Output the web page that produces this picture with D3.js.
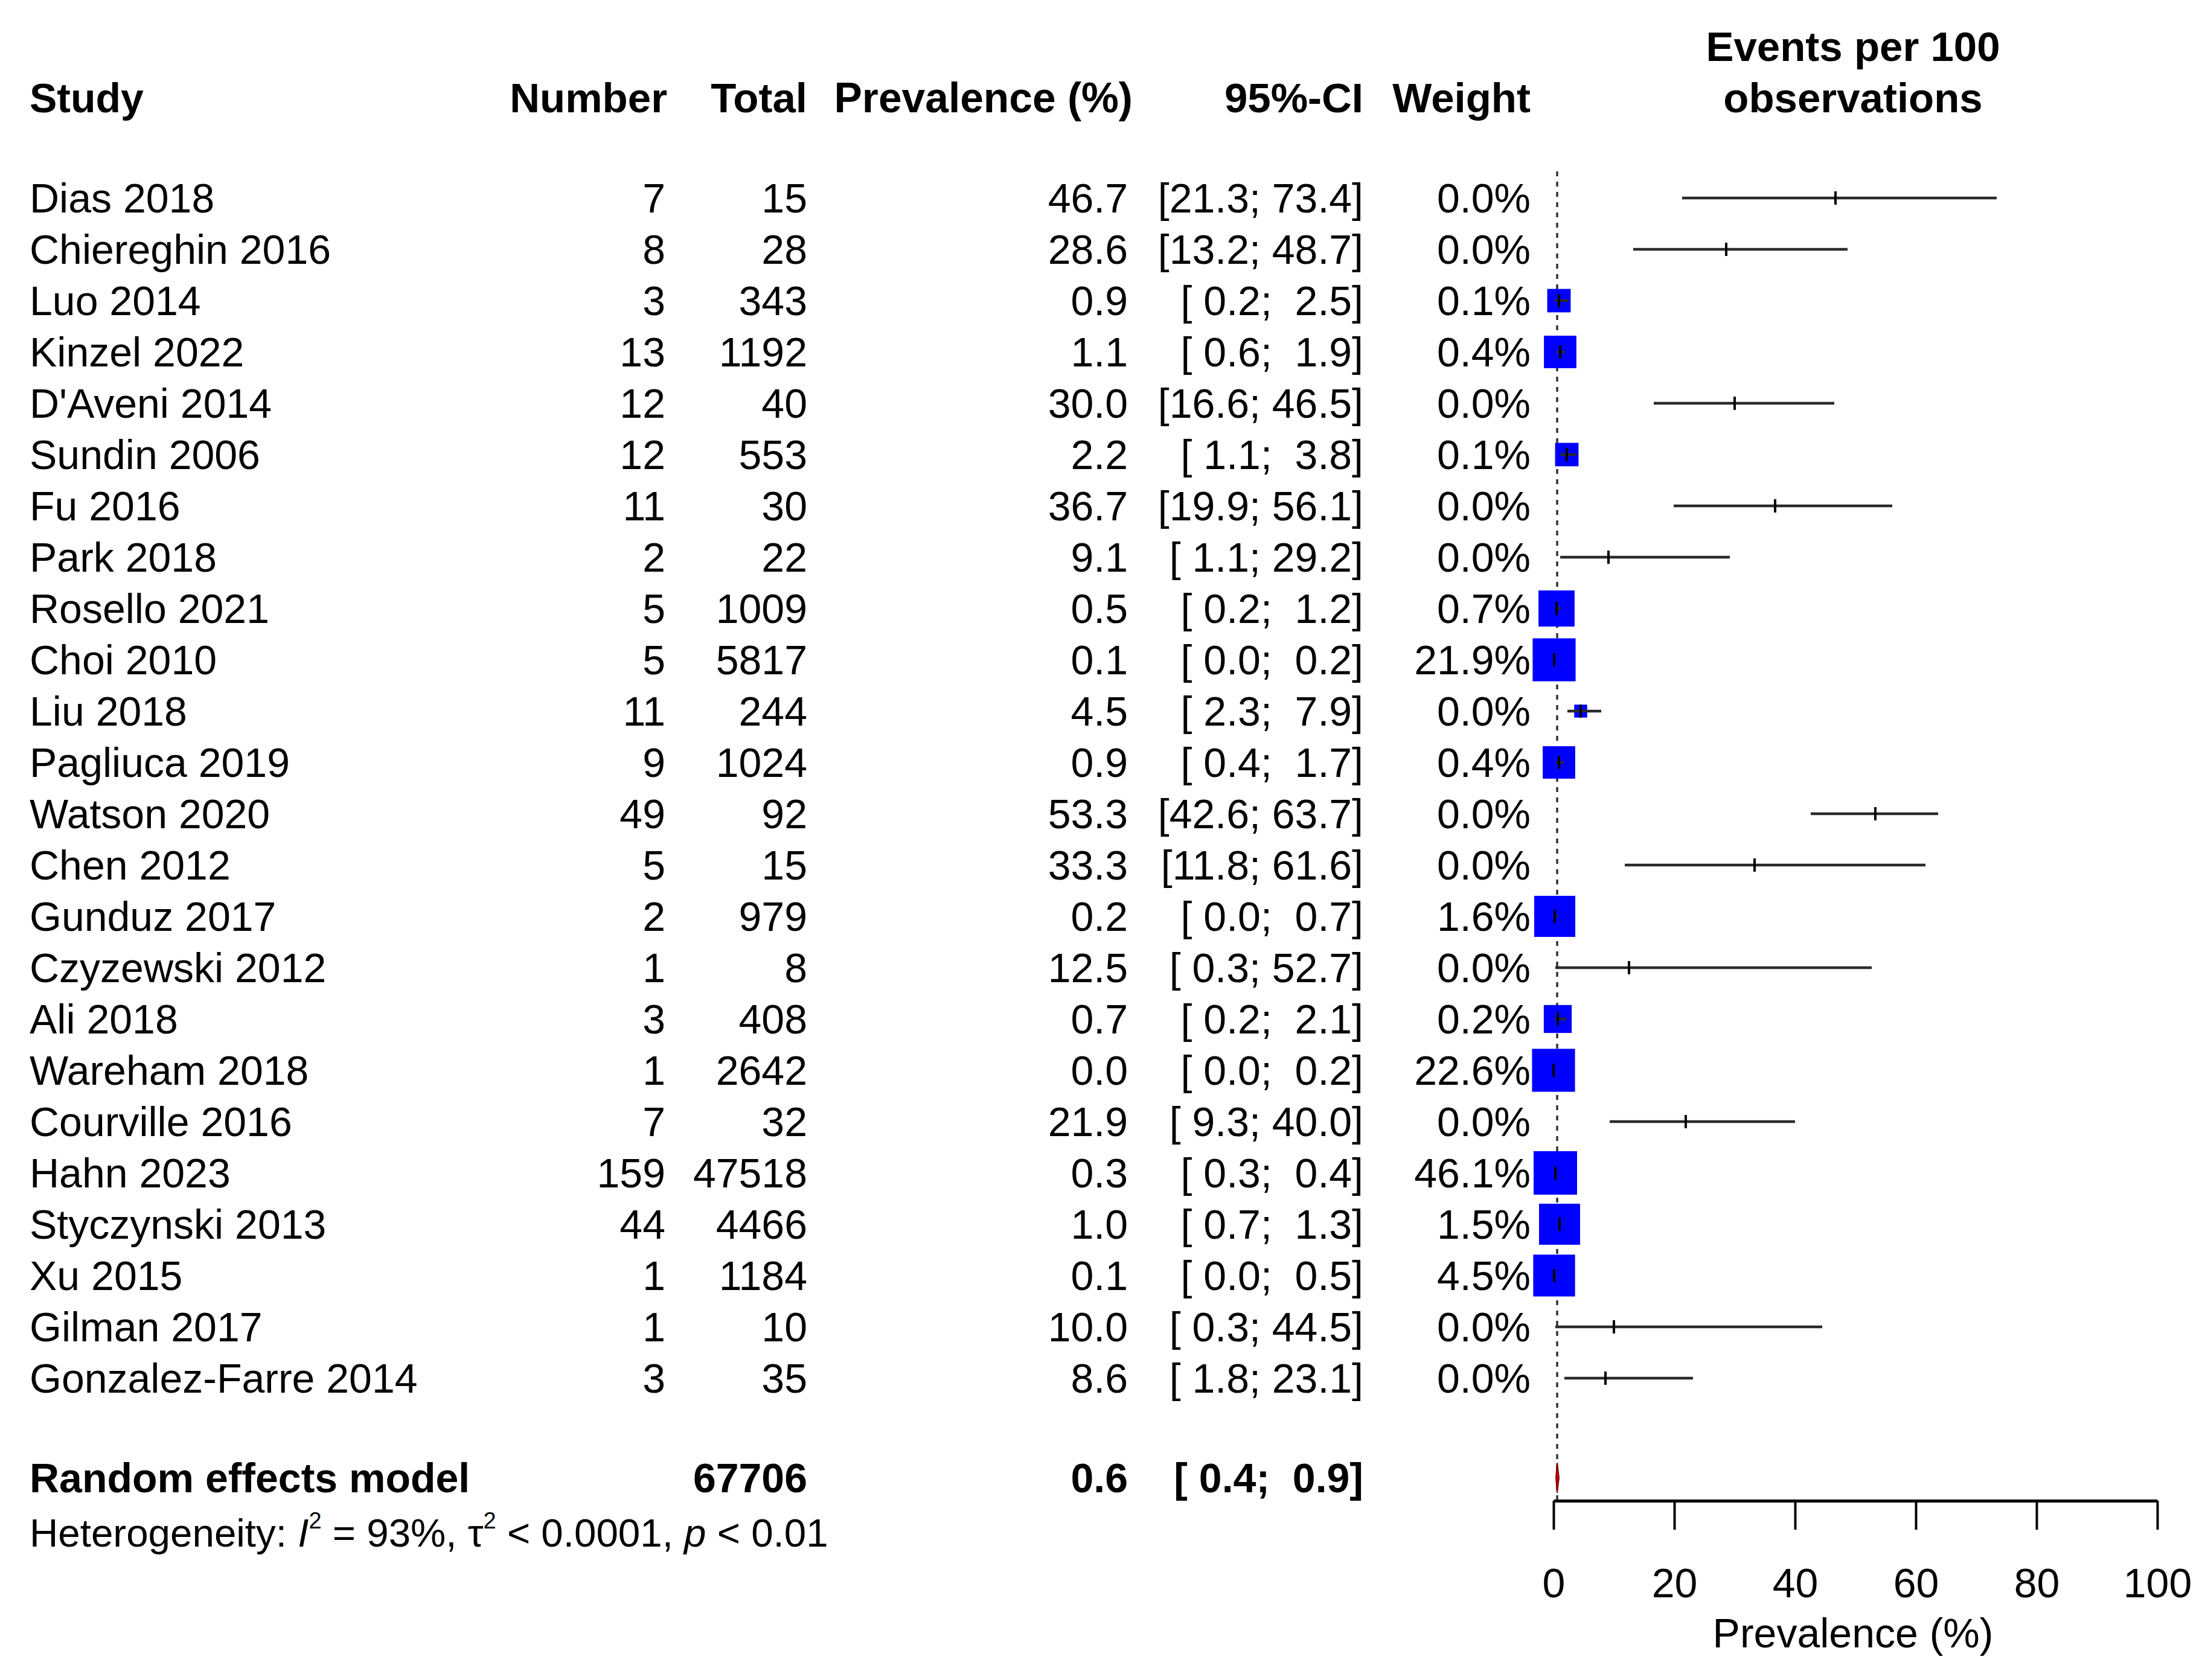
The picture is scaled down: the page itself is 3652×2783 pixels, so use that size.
<!DOCTYPE html>
<html>
<head>
<meta charset="utf-8">
<script src="https://cdn.jsdelivr.net/npm/d3@7"></script>
<style>
  html, body { margin: 0; padding: 0; background: #ffffff; }
  svg text { font-family: "Liberation Sans", Arial, Helvetica, sans-serif; white-space: pre; }
</style>
</head>
<body>
<svg id="chart" width="3652" height="2783" xml:space="preserve"></svg>
<script>
// ---------------- DATA ----------------
const studies = ["Dias 2018","Chiereghin 2016","Luo 2014","Kinzel 2022","D'Aveni 2014","Sundin 2006","Fu 2016","Park 2018","Rosello 2021","Choi 2010","Liu 2018","Pagliuca 2019","Watson 2020","Chen 2012","Gunduz 2017","Czyzewski 2012","Ali 2018","Wareham 2018","Courville 2016","Hahn 2023","Styczynski 2013","Xu 2015","Gilman 2017","Gonzalez-Farre 2014"];
const events = [7,8,3,13,12,12,11,2,5,5,11,9,49,5,2,1,3,1,7,159,44,1,1,3];
const totals = [15,28,343,1192,40,553,30,22,1009,5817,244,1024,92,15,979,8,408,2642,32,47518,4466,1184,10,35];
const prevalence = [46.7,28.6,0.9,1.1,30.0,2.2,36.7,9.1,0.5,0.1,4.5,0.9,53.3,33.3,0.2,12.5,0.7,0.0,21.9,0.3,1.0,0.1,10.0,8.6];
const ciLower = [21.3,13.2,0.2,0.6,16.6,1.1,19.9,1.1,0.2,0.0,2.3,0.4,42.6,11.8,0.0,0.3,0.2,0.0,9.3,0.3,0.7,0.0,0.3,1.8];
const ciUpper = [73.4,48.7,2.5,1.9,46.5,3.8,56.1,29.2,1.2,0.2,7.9,1.7,63.7,61.6,0.7,52.7,2.1,0.2,40.0,0.4,1.3,0.5,44.5,23.1];
const weights = [0.0,0.0,0.1,0.4,0.0,0.1,0.0,0.0,0.7,21.9,0.0,0.4,0.0,0.0,1.6,0.0,0.2,22.6,0.0,46.1,1.5,4.5,0.0,0.0];
// unrounded weights as estimated from the square sizes in the picture (0 = no visible square)
const weightsEstimated = [0,0,0.1,0.4,0,0.1,0,0,0.7,21.9,0.02,0.4,0,0,1.6,0,0.2,22.6,0,46.1,1.5,4.5,0,0];

const pooledLabel = "Random effects model";
const pooledTotal = 67706;
const pooledEst = 0.6;
const pooledLower = 0.4;
const pooledUpper = 0.9;

const xTicks = [0, 20, 40, 60, 80, 100];
const headers = { study: "Study", number: "Number", total: "Total", prev: "Prevalence (%)", ci: "95%-CI", weight: "Weight", right1: "Events per 100", right2: "observations" };
const xAxisTitle = "Prevalence (%)";

// ---------------- LAYOUT ----------------
const FS = 68;
const svg = d3.select("#chart");
svg.append("rect").attr("width", 3652).attr("height", 2783).attr("fill", "#fff");

const x = d3.scaleLinear().domain([0, 100]).range([2573, 3573]);
const y = d3.scaleLinear().domain([0, studies.length - 1]).range([328, 328 + 85 * (studies.length - 1)]);
const boxSize = d3.scaleLog().domain([0.01, 1.5, 46.1]).range([14, 68, 72]).clamp(true);

const col = { study: 49, number: 1102, total: 1337, prev: 1868, prevHead: 1876, ci: 2258, weight: 2535 };
const baseOff = 24;
const pooledY = 2448;
const axisY = 2486;

const fmt1 = d3.format(".1f");
const pad4 = v => fmt1(v).padStart(4, " ");
const ciText = (lo, hi) => "[" + pad4(lo) + "; " + pad4(hi) + "]";

function txt(g, xp, yp, s, anchor, weight, size) {
  return g.append("text").attr("x", xp).attr("y", yp).attr("text-anchor", anchor || "start")
    .attr("font-weight", weight || "normal").attr("font-size", size || FS).attr("fill", "#000").text(s);
}

// headers
const hg = svg.append("g");
const hy = 186;
txt(hg, col.study, hy, headers.study, "start", "bold");
txt(hg, col.number + 3, hy, headers.number, "end", "bold", 69);
txt(hg, col.total, hy, headers.total, "end", "bold", 69);
txt(hg, col.prevHead, hy, headers.prev, "end", "bold", 69.5);
txt(hg, col.ci, hy, headers.ci, "end", "bold", 69);
txt(hg, col.weight, hy, headers.weight, "end", "bold", 69);
txt(hg, x(50) - 4, 101, headers.right1, "middle", "bold", 69);
txt(hg, x(50) - 4, hy, headers.right2, "middle", "bold", 69);

// study rows text
const rg = svg.append("g");
studies.forEach((s, i) => {
  const yy = y(i) + baseOff;
  txt(rg, col.study, yy, s, "start");
  txt(rg, col.number, yy, String(events[i]), "end");
  txt(rg, col.total, yy, String(totals[i]), "end");
  txt(rg, col.prev, yy, fmt1(prevalence[i]), "end");
  txt(rg, col.ci, yy, ciText(ciLower[i], ciUpper[i]), "end");
  txt(rg, col.weight, yy, fmt1(weights[i]) + "%", "end");
});

// pooled row text
txt(rg, col.study, pooledY + baseOff, pooledLabel, "start", "bold");
txt(rg, col.total, pooledY + baseOff, String(pooledTotal), "end", "bold");
txt(rg, col.prev, pooledY + baseOff, fmt1(pooledEst), "end", "bold");
txt(rg, col.ci, pooledY + baseOff, ciText(pooledLower, pooledUpper), "end", "bold");

// heterogeneity line
const het = rg.append("text").attr("x", col.study).attr("y", 2562).attr("font-size", 65.5).attr("fill", "#000");
het.append("tspan").text("Heterogeneity: ");
het.append("tspan").attr("font-style", "italic").text("I");
het.append("tspan").attr("font-size", 38).attr("dy", -30).text("2");
het.append("tspan").attr("dy", 30).text(" = 93%, ");
het.append("tspan").text("\u03C4");
het.append("tspan").attr("font-size", 38).attr("dy", -30).text("2");
het.append("tspan").attr("dy", 30).text(" < 0.0001, ");
het.append("tspan").attr("font-style", "italic").text("p");
het.append("tspan").text(" < 0.01");

// reference dotted line at pooled estimate
const pg = svg.append("g");
pg.append("line").attr("x1", x(pooledEst)).attr("x2", x(pooledEst)).attr("y1", 284).attr("y2", axisY)
  .attr("stroke", "#333").attr("stroke-width", 3.5).attr("stroke-dasharray", "8,9");

// squares
studies.forEach((s, i) => {
  const w = weightsEstimated[i];
  if (w > 0) {
    const sz = boxSize(w);
    pg.append("rect").attr("x", x(prevalence[i]) - sz / 2).attr("y", y(i) - sz / 2)
      .attr("width", sz).attr("height", sz).attr("fill", "#0000ff");
  }
});
// CI lines + estimate ticks
studies.forEach((s, i) => {
  pg.append("line").attr("x1", x(ciLower[i])).attr("x2", x(ciUpper[i])).attr("y1", y(i)).attr("y2", y(i))
    .attr("stroke", "#2a2a2a").attr("stroke-width", 4.5);
  pg.append("line").attr("x1", x(prevalence[i])).attr("x2", x(prevalence[i])).attr("y1", y(i) - 11).attr("y2", y(i) + 11)
    .attr("stroke", "#000").attr("stroke-width", 4);
});

// pooled diamond
const dh = 25;
pg.append("path")
  .attr("d", `M${x(pooledLower)},${pooledY} L${x(pooledEst)},${pooledY - dh} L${x(pooledUpper)},${pooledY} L${x(pooledEst)},${pooledY + dh} Z`)
  .attr("fill", "#c00000").attr("stroke", "#8b0000").attr("stroke-width", 2);

// x axis
const axis = d3.axisBottom(x).tickValues(xTicks).tickSize(48).tickSizeOuter(0).tickPadding(64).tickFormat(d3.format("d"));
const ag = svg.append("g").attr("transform", `translate(0,${axisY})`).call(axis);
ag.select(".domain").attr("stroke", "#000").attr("stroke-width", 5);
ag.selectAll(".tick line").attr("stroke", "#000").attr("stroke-width", 4);
ag.selectAll(".tick text").attr("font-size", FS).attr("fill", "#000")
  .attr("font-family", "'Liberation Sans', Arial, sans-serif");
txt(svg, x(50) - 4, 2729, xAxisTitle, "middle");
</script>
</body>
</html>
